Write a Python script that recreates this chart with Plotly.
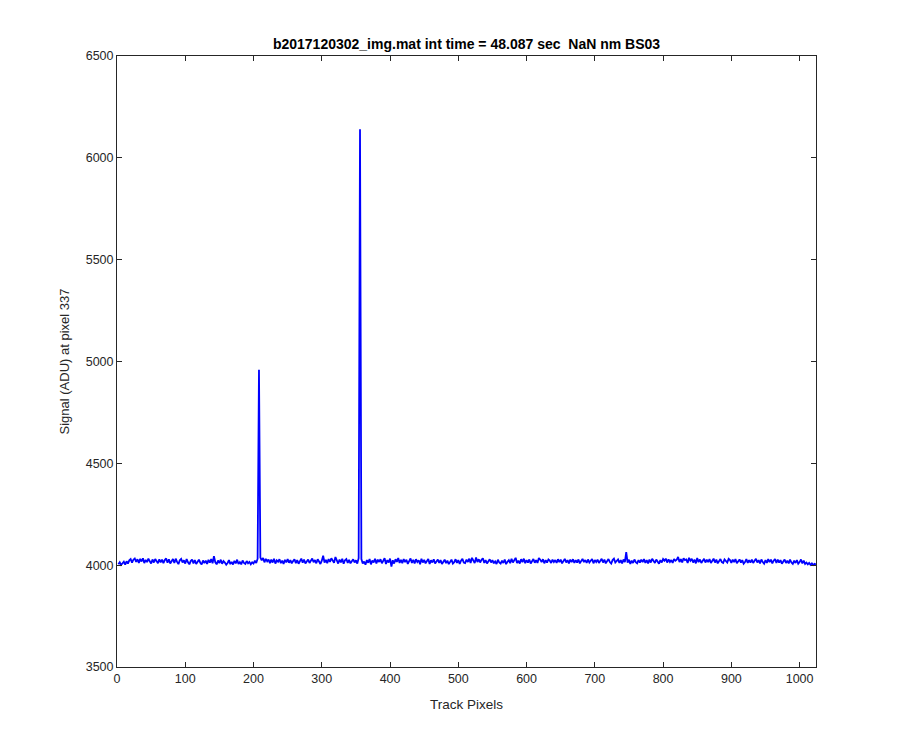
import plotly.graph_objects as go

title_text = "b2017120302_img.mat int time = 48.087 sec  NaN nm BS03"
x_label = "Track Pixels"
y_label = "Signal (ADU) at pixel 337"

x_ticks = [0, 100, 200, 300, 400, 500, 600, 700, 800, 900, 1000]
y_ticks = [3500, 4000, 4500, 5000, 5500, 6000, 6500]

track_pixels = list(range(2, 1025, 2))

signal = [
    4004, 4014, 4001, 4010, 4017, 4003, 4019, 4008, 4024, 4030, 4012, 4027, 4033, 4016, 4029, 4011,
    4031, 4018, 4034, 4010, 4026, 4015, 4032, 4019, 4008, 4028, 4013, 4030, 4017, 4009, 4029, 4014,
    4027, 4010, 4025, 4033, 4012, 4029, 4008, 4022, 4030, 4011, 4032, 4016, 4005, 4024, 4031, 4013,
    4024, 4008, 4030, 4014, 4004, 4020, 4028, 4009, 4025, 4006, 4016, 4027, 4012, 4003, 4023, 4010,
    4022, 4006, 4026, 4012, 4030, 4009, 4044, 4014, 4004, 4023, 4010, 4027, 4007, 4020, 4013, 4002,
    4011, 4025, 4005, 4016, 4003, 4021, 4009, 4027, 4006, 4015, 4004, 4023, 4011, 4006, 4020, 4009,
    4016, 4004, 4014, 4008, 4022, 4011, 4032, 4960, 4038, 4024, 4035, 4014, 4031, 4019, 4028, 4010,
    4027, 4013, 4031, 4008, 4024, 4017, 4029, 4010, 4022, 4006, 4026, 4014, 4030, 4012, 4025, 4009,
    4020, 4029, 4010, 4025, 4007, 4022, 4032, 4012, 4027, 4008, 4019, 4028, 4011, 4023, 4033, 4014,
    4025, 4009, 4029, 4018, 4006, 4022, 4046, 4013, 4026, 4010, 4030, 4016, 4034, 4023, 4012, 4040,
    4022, 4008, 4027, 4014, 4031, 4007, 4024, 4030, 4011, 4026, 4009, 4021, 4029, 4013, 4024, 4008,
    4034, 6140, 4030, 4008, 4018, 4002, 4025, 4012, 4030, 4004, 4023, 4013, 4031, 4008, 4027, 4016,
    4029, 4009, 4021, 4034, 4006, 4025, 4013, 4032, 3993, 4024, 4008, 4029, 4016, 4035, 4011, 4026,
    4010, 4030, 4015, 4027, 4006, 4021, 4033, 4011, 4026, 4008, 4029, 4015, 4024, 4005, 4031, 4013,
    4026, 4009, 4022, 4030, 4006, 4024, 4013, 4029, 4008, 4021, 4028, 4011, 4025, 4006, 4017, 4027,
    4010, 4022, 4005, 4017, 4027, 4008, 4015, 4029, 4011, 4025, 4006, 4022, 4031, 4013, 4010, 4027,
    4016, 4032, 4011, 4036, 4024, 4010, 4038, 4015, 4029, 4013, 4026, 4034, 4011, 4025, 4008, 4021,
    4029, 4013, 4025, 4009, 4018, 4006, 4027, 4013, 4008, 4022, 4011, 4028, 4005, 4017, 4025, 4010,
    4031, 4013, 4026, 4036, 4011, 4022, 4008, 4029, 4015, 4032, 4010, 4025, 4013, 4028, 4008, 4022,
    4030, 4012, 4025, 4011, 4035, 4027, 4015, 4029, 4009, 4025, 4013, 4028, 4022, 4011, 4027, 4015,
    4025, 4011, 4029, 4015, 4027, 4009, 4022, 4031, 4013, 4025, 4009, 4027, 4015, 4029, 4011, 4025,
    4013, 4028, 4009, 4022, 4031, 4015, 4025, 4011, 4028, 4013, 4022, 4030, 4009, 4025, 4015, 4027,
    4011, 4025, 4031, 4013, 4027, 4009, 4022, 4030, 4015, 4008, 4025, 4032, 4013, 4022, 4028, 4011,
    4025, 4009, 4028, 4015, 4064, 4013, 4027, 4006, 4022, 4011, 4028, 4015, 4009, 4025, 4013, 4027,
    4015, 4030, 4011, 4025, 4009, 4027, 4013, 4031, 4022, 4011, 4028, 4015, 4007, 4025, 4013, 4030,
    4022, 4032, 4013, 4028, 4015, 4025, 4011, 4030, 4022, 4027, 4040, 4015, 4030, 4013, 4034, 4025,
    4028, 4011, 4036, 4022, 4031, 4013, 4027, 4009, 4035, 4015, 4028, 4011, 4025, 4031, 4013, 4027,
    4015, 4030, 4011, 4025, 4032, 4013, 4027, 4009, 4022, 4030, 4015, 4011, 4028, 4022, 4013, 4031,
    4025, 4011, 4027, 4015, 4030, 4009, 4022, 4028, 4013, 4025, 4007, 4015, 4030, 4011, 4025, 4013,
    4027, 4011, 4022, 4031, 4013, 4025, 4009, 4028, 4015, 4007, 4025, 4011, 4030, 4015, 4027, 4009,
    4022, 4030, 4011, 4027, 4013, 4025, 4007, 4015, 4028, 4011, 4022, 4009, 4027, 4013, 4006, 4022,
    4011, 4025, 4007, 4015, 4028, 4009, 4022, 4006, 4013, 4004, 4011, 4002, 4009, 4001, 4007, 4003,
]

FONT = "Liberation Sans"
AXC = "#262626"

fig = go.Figure()
fig.add_trace(go.Scatter(
    x=track_pixels, y=signal, mode="lines",
    line=dict(color="#0000FF", width=1.8),
    showlegend=False, hoverinfo="skip",
))

axis_common = dict(
    showline=True, linecolor=AXC, linewidth=1, mirror="ticks",
    ticks="inside", ticklen=5, tickcolor=AXC, tickwidth=1,
    showgrid=False, zeroline=False,
    tickfont=dict(family=FONT, size=12.5, color=AXC),
)

# page has an 8px body margin, so the figure is sized to land the axes
# at the reference positions (117..816, 56..667)
fig.update_layout(
    width=892, height=742,
    margin=dict(l=109, r=84, t=48, b=83),
    paper_bgcolor="white", plot_bgcolor="white",
    title=dict(
        text="<b>" + title_text + "</b>",
        x=0.5, xref="paper", xanchor="center",
        y=1 - 36 / 742, yref="container", yanchor="middle",
        font=dict(family=FONT, size=14, color="black"),
    ),
    xaxis=dict(range=[0, 1024], tickvals=x_ticks, **axis_common),
    yaxis=dict(range=[3500, 6500], tickvals=y_ticks, **axis_common),
    annotations=[
        dict(text=x_label, xref="paper", yref="paper", x=0.5, y=-38 / 611,
             xanchor="center", yanchor="middle", showarrow=False,
             font=dict(family=FONT, size=13.5, color=AXC)),
        dict(text=y_label, xref="paper", yref="paper", x=-53 / 699, y=0.5,
             xanchor="center", yanchor="middle", showarrow=False, textangle=-90,
             font=dict(family=FONT, size=13, color=AXC)),
    ],
)

fig.write_html("out.html")
